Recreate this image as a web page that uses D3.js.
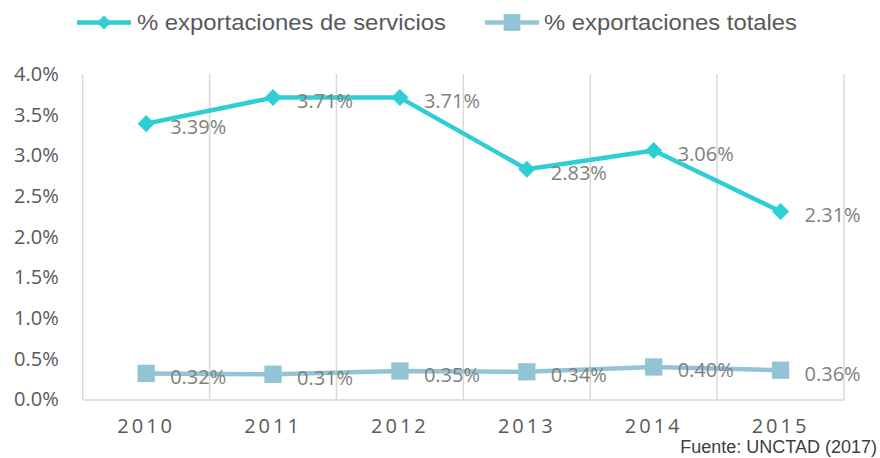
<!DOCTYPE html>
<html>
<head>
<meta charset="utf-8">
<script src="https://cdn.jsdelivr.net/npm/d3@7"></script>
<style>
  body { margin: 0; background: #fff; }
  svg { display: block; }
</style>
</head>
<body>
<div id="chart"></div>
<script>
// data
const years = ['2010', '2011', '2012', '2013', '2014', '2015']
const servicios = [3.39, 3.71, 3.71, 2.83, 3.06, 2.31]
const totales = [0.32, 0.31, 0.35, 0.34, 0.40, 0.36]
const yTicks = [0, 0.5, 1, 1.5, 2, 2.5, 3, 3.5, 4]
const seriesNames = ['% exportaciones de servicios', '% exportaciones totales']

// our canvas
const width = 880,
  height = 458,
  plotLeft = 82.7,
  plotRight = 844,
  plotTop = 74,
  plotBottom = 399.5

const colServ = '#2dced4',
  colTot = '#93c4d5',
  grid = '#d9d9d9',
  numFont = '"Open Sans", sans-serif'

let svg = d3.select('#chart')
  .append('svg')
  .attr('width', width)
  .attr('height', height)

const x = d3.scaleBand().domain(years).range([plotLeft, plotRight])
const y = d3.scaleLinear().domain([0, 4]).range([plotBottom, plotTop])
const cx = d => x(d) + x.bandwidth() / 2

// vertical gridlines at category edges
const edges = years.map(d => x(d)).concat([plotRight])
svg.selectAll('line.grid')
  .data(edges)
  .enter()
  .append('line')
  .attr('class', 'grid')
  .attr('x1', d => d).attr('x2', d => d)
  .attr('y1', plotTop).attr('y2', plotBottom)
  .attr('stroke', grid)
  .attr('stroke-width', 1.5)

// x axis
let xAx = svg.append('g')
  .attr('transform', `translate(0, ${plotBottom})`)
  .call(d3.axisBottom(x).tickSize(0).tickSizeOuter(0))
xAx.select('.domain').attr('stroke', grid).attr('stroke-width', 1.5)
xAx.selectAll('text')
  .attr('dy', null)
  .attr('y', 33)
  .attr('fill', '#595959')
  .style('font-family', numFont)
  .style('font-size', '20px')
  .style('letter-spacing', '3px')

// y axis
let yAx = svg.append('g')
  .attr('transform', `translate(${plotLeft - 24}, 0)`)
  .call(d3.axisLeft(y).tickValues(yTicks).tickSize(0).tickFormat(d => d.toFixed(1) + '%'))
yAx.select('.domain').remove()
yAx.selectAll('text')
  .attr('x', 0)
  .attr('fill', '#595959')
  .style('font-family', numFont)
  .style('font-size', '20px')

const line = d3.line()
  .x((d, i) => cx(years[i]))
  .y(d => y(d))

// diamond = square turned 45 degrees
let marker = (shape, big) => {
  if (shape === 'diamond') return d3.symbol().type(d3.symbolSquare).size(big ? 145 : 100)()
  return d3.symbol().type(d3.symbolSquare).size(big ? 300 : 280)()
}
let turn = shape => shape === 'diamond' ? ' rotate(45)' : ''

let drawSeries = (vals, color, shape) => {
  svg.append('path')
    .datum(vals)
    .attr('d', line)
    .attr('fill', 'none')
    .attr('stroke', color)
    .attr('stroke-width', 4.5)
    .attr('stroke-linejoin', 'round')

  svg.selectAll(null)
    .data(vals)
    .enter()
    .append('path')
    .attr('d', marker(shape, true))
    .attr('transform', (d, i) => `translate(${cx(years[i])}, ${y(d)})` + turn(shape))
    .attr('fill', color)

  svg.selectAll(null)
    .data(vals)
    .enter()
    .append('text')
    .attr('x', (d, i) => cx(years[i]) + 24)
    .attr('y', d => y(d) + 3)
    .attr('dominant-baseline', 'central')
    .attr('fill', '#7f7f7f')
    .style('font-family', numFont)
    .style('font-size', '20px')
    .text(d => d.toFixed(2) + '%')
}

drawSeries(servicios, colServ, 'diamond')
drawSeries(totales, colTot, 'square')

// legend
const legend = [
  { name: seriesNames[0], color: colServ, shape: 'diamond', x: 77, len: 309 },
  { name: seriesNames[1], color: colTot, shape: 'square', x: 485, len: 253 }
]
legend.forEach(l => {
  let g = svg.append('g')
  g.append('line')
    .attr('x1', l.x).attr('x2', l.x + 54)
    .attr('y1', 22.5).attr('y2', 22.5)
    .attr('stroke', l.color)
    .attr('stroke-width', 4.5)
  g.append('path')
    .attr('d', marker(l.shape, false))
    .attr('transform', `translate(${l.x + 27}, 22.5)` + turn(l.shape))
    .attr('fill', l.color)
  g.append('text')
    .attr('x', l.shape === 'diamond' ? l.x + 60 : l.x + 59)
    .attr('y', 30)
    .attr('fill', '#595959')
    .attr('textLength', l.len)
    .attr('lengthAdjust', 'spacingAndGlyphs')
    .style('font-family', '"Liberation Sans", Arial, sans-serif')
    .style('font-size', '22px')
    .text(l.name)
})

// source
svg.append('text')
  .attr('x', 877)
  .attr('y', 453)
  .attr('text-anchor', 'end')
  .attr('fill', '#404040')
  .style('font-family', '"Liberation Sans", Arial, sans-serif')
  .style('font-size', '18px')
  .text('Fuente: UNCTAD (2017)')
</script>
</body>
</html>
